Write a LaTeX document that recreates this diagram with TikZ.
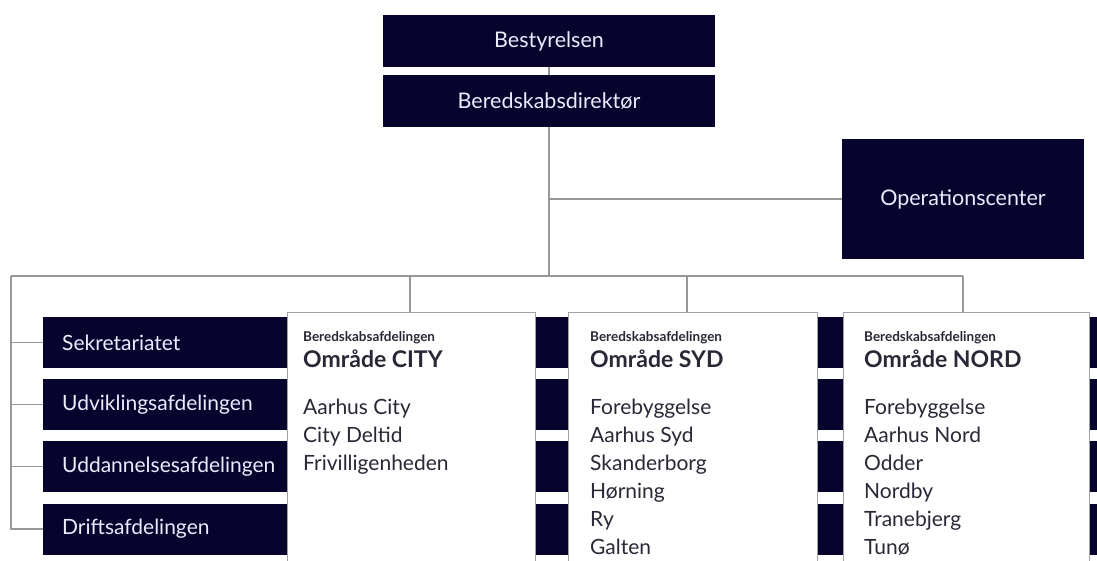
\documentclass[tikz,border=0pt]{standalone}
\usepackage{fontspec}
\setmainfont{Lato}
\definecolor{navy}{RGB}{6,4,45}
\definecolor{linegray}{RGB}{150,150,155}
\definecolor{boxgray}{RGB}{160,160,165}
\definecolor{txt}{RGB}{40,40,55}
\begin{document}
\begin{tikzpicture}[x=1pt,y=-1pt,
  conn/.style={draw=linegray, line width=1.6pt},
  darkbox/.style={fill=navy, text=white!92!blue, inner sep=0pt, font=\fontsize{21.5}{21.5}\selectfont},
  band/.style={fill=navy, text=white!92!blue, anchor=west, minimum height=51pt, text width=1030pt,
    inner xsep=19pt, inner ysep=0pt, align=left, font=\fontsize{21}{21}\selectfont},
  areabox/.style={fill=white, draw=boxgray, line width=1.4pt, anchor=north west, inner sep=0pt,
    minimum height=262pt},
  hdr/.style={anchor=base west, inner sep=0pt, text=txt, font=\bfseries\fontsize{13.5}{13.5}\selectfont},
  ttl/.style={anchor=base west, inner sep=0pt, text=txt, font=\bfseries\fontsize{23}{23}\selectfont},
  item/.style={anchor=base west, inner sep=0pt, text=txt, font=\fontsize{21}{21}\selectfont}]
\useasboundingbox (0,0) rectangle (1097,560);

% top boxes
\node[darkbox, minimum width=332pt, minimum height=52pt] (best) at (549,41) {Bestyrelsen};
\node[darkbox, minimum width=332pt, minimum height=52pt] (dir) at (549,101) {Beredskabsdirektør};
\node[darkbox, minimum width=242pt, minimum height=120pt] (ops) at (963,199) {Operationscenter};

% coordinates for the connector tree
\coordinate (hl) at (11,276);
\coordinate (hr) at (963,276);
\coordinate (hj) at (549,276);
\coordinate (dcity) at (410,276);
\coordinate (dsyd) at (687,276);
\coordinate (dnord) at (963,276);

% connectors (drawn first)
\draw[conn] (best.south) -- (dir.north);
\draw[conn] (dir.south) -- (hj);
\draw[conn] (hj |- ops.west) -- (ops.west);
\draw[conn] (hl) -- (hr);

% bands
\node[band] (sek) at (43,342.5) {Sekretariatet};
\node[band] (udv) at (43,404.5) {Udviklingsafdelingen};
\node[band] (udd) at (43,466.5) {Uddannelsesafdelingen};
\node[band] (drift) at (43,529) {Driftsafdelingen};

\draw[conn] (hl) |- (drift.west);
\draw[conn] (hl |- sek.west) -- (sek.west);
\draw[conn] (hl |- udv.west) -- (udv.west);
\draw[conn] (hl |- udd.west) -- (udd.west);

% area boxes
\node[areabox, minimum width=248pt] (city) at (287,312) {};
\node[areabox, minimum width=249pt] (syd) at (568,312) {};
\node[areabox, minimum width=246pt] (nord) at (843,312) {};

\draw[conn] (dcity) -- (dcity |- city.north);
\draw[conn] (dsyd) -- (dsyd |- syd.north);
\draw[conn] (dnord) -- (dnord |- nord.north);

% CITY
\node[hdr] (cityh) at (303,341) {Beredskabsafdelingen};
\node[ttl] (cityt) at (303,367) {Område CITY};
\node[item] (c1) at (303,414) {Aarhus City};
\node[item] (c2) at (303,442) {City Deltid};
\node[item] (c3) at (303,470) {Frivilligenheden};

% SYD
\node[hdr] (sydh) at (590,341) {Beredskabsafdelingen};
\node[ttl] (sydt) at (590,367) {Område SYD};
\node[item] (s1) at (590,414) {Forebyggelse};
\node[item] (s2) at (590,442) {Aarhus Syd};
\node[item] (s3) at (590,470) {Skanderborg};
\node[item] (s4) at (590,498) {Hørning};
\node[item] (s5) at (590,526) {Ry};
\node[item] (s6) at (590,554) {Galten};

% NORD
\node[hdr] (nordh) at (864,341) {Beredskabsafdelingen};
\node[ttl] (nordt) at (864,367) {Område NORD};
\node[item] (n1) at (864,414) {Forebyggelse};
\node[item] (n2) at (864,442) {Aarhus Nord};
\node[item] (n3) at (864,470) {Odder};
\node[item] (n4) at (864,498) {Nordby};
\node[item] (n5) at (864,526) {Tranebjerg};
\node[item] (n6) at (864,554) {Tunø};
\end{tikzpicture}
\end{document}
